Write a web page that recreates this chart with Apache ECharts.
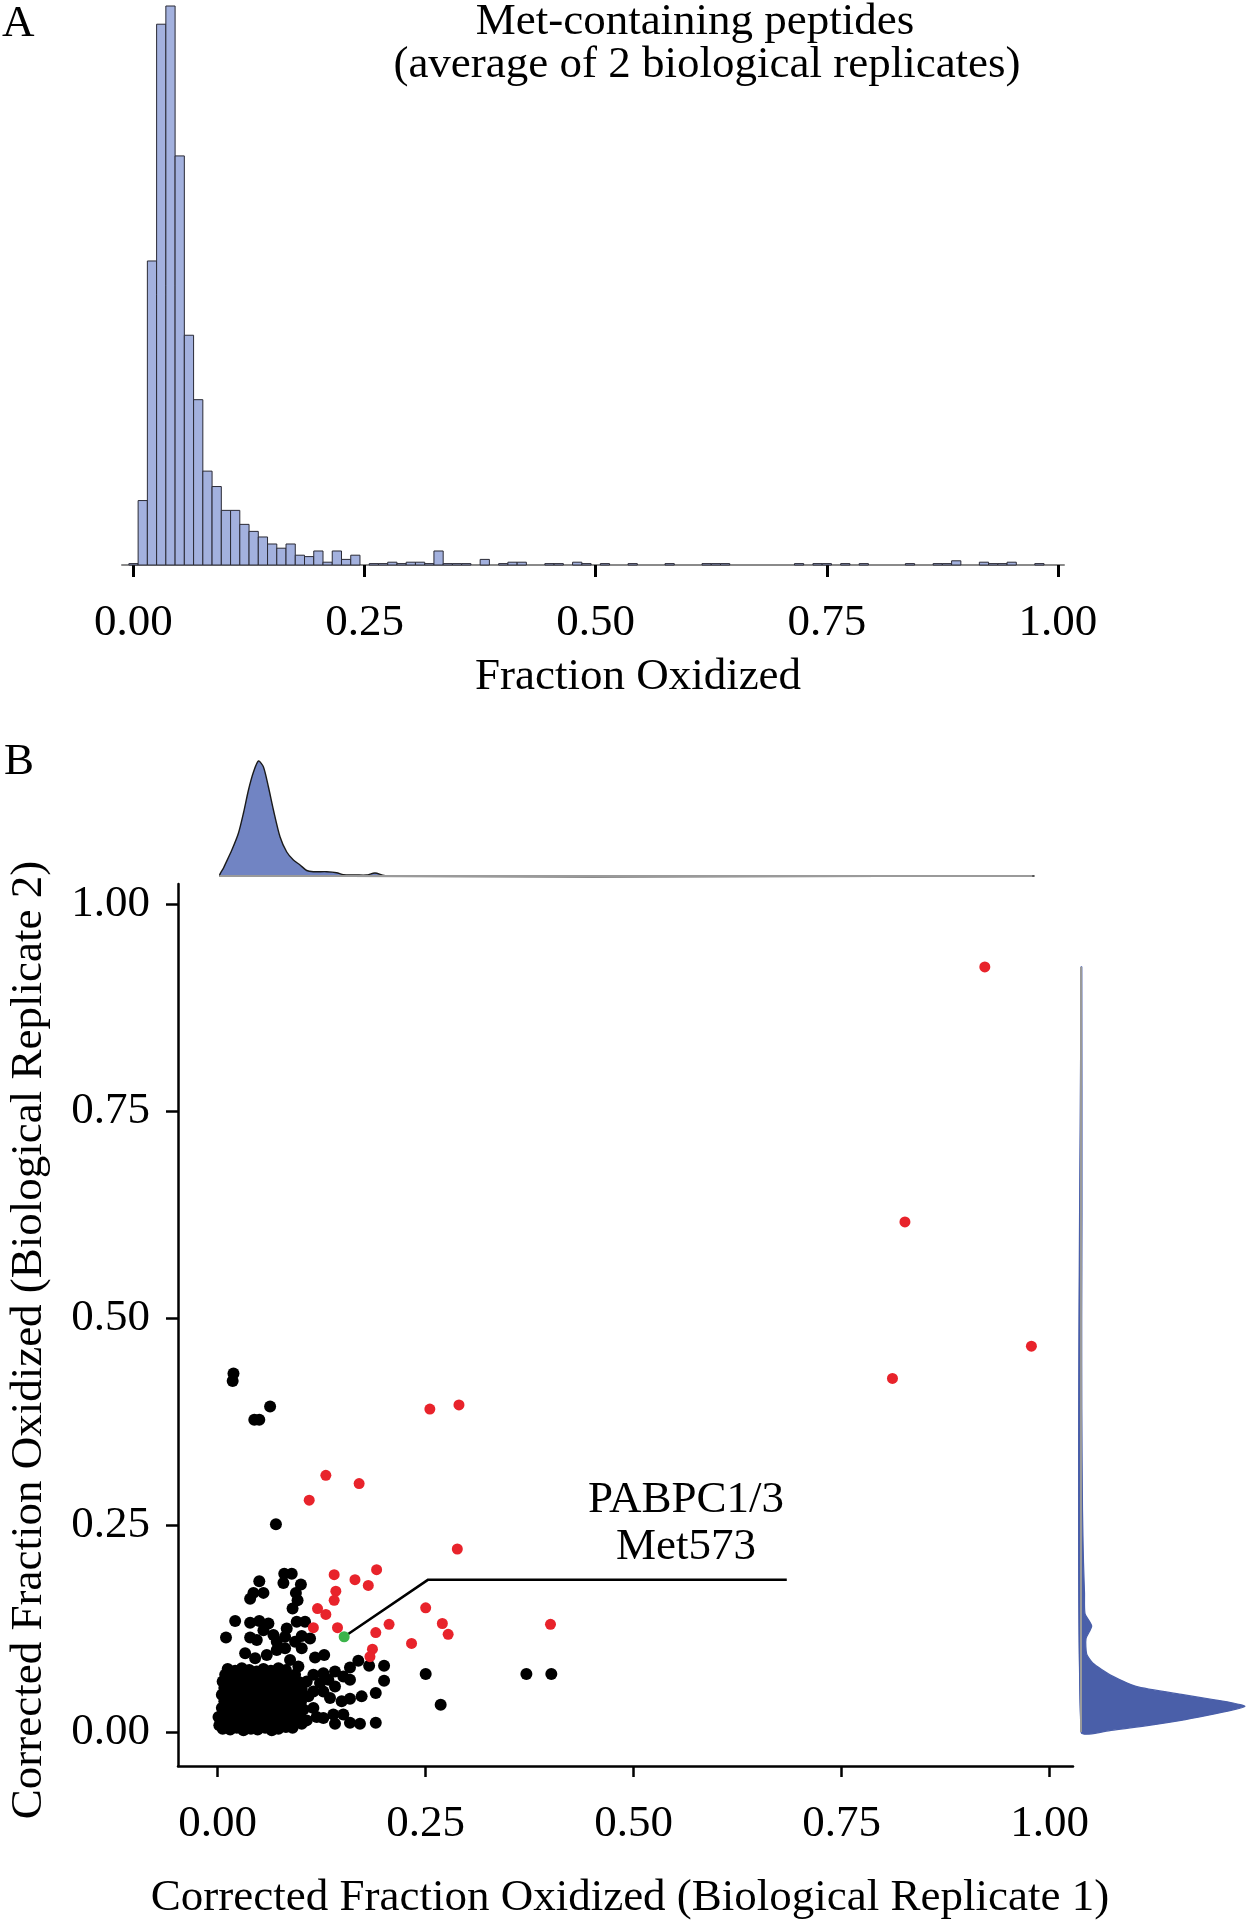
<!DOCTYPE html>
<html><head><meta charset="utf-8">
<script src="https://cdn.jsdelivr.net/npm/echarts@6/dist/echarts.min.js"></script>
<style>html,body{margin:0;padding:0;background:#fff}#c{width:1246px;height:1920px}</style>
</head><body><div id="c"></div>
<script>
// ---------- Panel A: histogram (bin centres, counts) ----------
const histBinWidth = 0.01;
const histCenters = [0.00,0.01,0.02,0.03,0.04,0.05,0.06,0.07,0.08,0.09,0.10,0.11,0.12,0.13,0.14,0.15,0.16,0.17,0.18,0.19,0.20,0.21,0.22,0.23,0.24,
  0.26,0.27,0.28,0.29,0.30,0.31,0.32,0.33,0.34,0.35,0.36,0.38,0.40,0.41,0.42,0.45,0.46,0.48,0.49,0.51,0.54,0.58,0.62,0.63,0.64,
  0.72,0.74,0.75,0.77,0.79,0.84,0.87,0.88,0.89,0.92,0.93,0.94,0.95,0.98];
const histCounts = [1,46,217,386,399,292,164,118,67,56,39,39,29,24,20,15,12,15,7,6,10,2,10,4,7,
  1,1,2,1,2,2,1,10,1,1,1,4,1,2,2,1,1,2,1,1,1,1,1,1,1,
  1,1,1,1,1,1,1,1,3,2,1,1,2,1];
const tickValues = [0, 0.25, 0.5, 0.75, 1];

// ---------- Panel B: scatter ----------
const blackPoints = [
  // dense core
  [0.006,0.004],[0.015,0.003],[0.023,0.005],[0.031,0.002],[0.040,0.004],[0.048,0.003],[0.057,0.005],[0.065,0.002],[0.073,0.004],[0.082,0.006],[0.090,0.005],
  [0.004,0.013],[0.011,0.011],[0.019,0.012],[0.027,0.014],[0.036,0.011],[0.044,0.013],[0.052,0.010],[0.061,0.012],[0.069,0.014],[0.078,0.011],[0.086,0.013],[0.094,0.012],[0.101,0.010],
  [0.007,0.021],[0.015,0.019],[0.024,0.020],[0.032,0.022],[0.040,0.019],[0.049,0.021],[0.057,0.018],[0.066,0.020],[0.074,0.022],[0.083,0.019],[0.091,0.021],[0.099,0.020],
  [0.005,0.029],[0.012,0.027],[0.020,0.028],[0.029,0.030],[0.037,0.027],[0.045,0.029],[0.054,0.026],[0.062,0.028],[0.070,0.030],[0.079,0.027],[0.087,0.029],[0.096,0.028],
  [0.008,0.037],[0.016,0.035],[0.025,0.036],[0.033,0.038],[0.041,0.035],[0.050,0.037],[0.058,0.034],[0.067,0.036],[0.075,0.038],[0.084,0.035],[0.092,0.037],[0.100,0.036],
  [0.005,0.045],[0.013,0.043],[0.021,0.044],[0.030,0.046],[0.038,0.043],[0.046,0.045],[0.055,0.042],[0.063,0.044],[0.071,0.046],[0.080,0.043],[0.088,0.045],[0.097,0.044],
  [0.008,0.053],[0.017,0.051],[0.025,0.052],[0.034,0.054],[0.042,0.051],[0.051,0.053],[0.059,0.050],[0.067,0.052],[0.076,0.054],[0.084,0.051],[0.093,0.053],[0.101,0.052],
  [0.006,0.061],[0.014,0.059],[0.022,0.060],[0.031,0.062],[0.039,0.059],[0.047,0.061],[0.056,0.058],[0.064,0.060],[0.072,0.062],[0.081,0.059],[0.089,0.061],[0.098,0.060],
  [0.009,0.069],[0.017,0.067],[0.026,0.068],[0.034,0.070],[0.043,0.067],[0.051,0.069],[0.059,0.066],[0.068,0.068],[0.076,0.070],[0.085,0.067],[0.093,0.069],
  [0.012,0.076],[0.021,0.074],[0.029,0.077],[0.038,0.075],[0.047,0.073],[0.055,0.076],[0.064,0.074],[0.073,0.077],[0.082,0.075],
  [0.001,0.018],[0.002,0.008],
  // right of core
  [0.115,0.069],[0.127,0.071],[0.141,0.073],[0.151,0.067],[0.159,0.078],[0.169,0.086],[0.182,0.080],[0.200,0.080],[0.200,0.062],[0.159,0.063],
  [0.141,0.055],[0.127,0.049],[0.115,0.049],[0.159,0.040],[0.173,0.043],[0.190,0.047],[0.115,0.029],[0.103,0.027],[0.119,0.018],[0.139,0.021],
  [0.151,0.021],[0.141,0.010],[0.159,0.011],[0.171,0.010],[0.190,0.011],[0.133,0.063],[0.123,0.059],[0.107,0.061],[0.109,0.043],[0.135,0.041],
  [0.107,0.014],[0.127,0.017],[0.149,0.037],
  // above core
  [0.050,0.182],[0.080,0.191],[0.089,0.191],[0.079,0.180],[0.100,0.178],[0.043,0.168],[0.055,0.168],[0.039,0.161],[0.094,0.168],[0.096,0.159],
  [0.090,0.149],[0.021,0.134],[0.010,0.114],[0.039,0.132],[0.050,0.134],[0.061,0.131],[0.039,0.114],[0.047,0.111],[0.083,0.125],[0.095,0.133],
  [0.105,0.133],[0.081,0.115],[0.101,0.116],[0.111,0.113],[0.071,0.109],[0.081,0.101],[0.101,0.101],[0.033,0.095],[0.045,0.089],[0.059,0.093],
  [0.117,0.090],[0.128,0.093],[0.087,0.087],[0.097,0.079],[0.055,0.123],[0.067,0.117],[0.071,0.099],[0.093,0.109],
  // outliers
  [0.019,0.433],[0.018,0.424],[0.044,0.377],[0.050,0.377],[0.063,0.393],[0.070,0.251],
  [0.371,0.070],[0.401,0.070],[0.250,0.070],[0.268,0.033]
];
const redPoints = [
  [0.922,0.924],[0.826,0.616],[0.978,0.466],[0.811,0.427],[0.255,0.390],[0.290,0.395],[0.130,0.310],[0.110,0.280],[0.170,0.300],
  [0.288,0.221],[0.400,0.130],[0.140,0.190],[0.165,0.184],[0.191,0.196],[0.181,0.177],[0.142,0.170],[0.140,0.159],[0.120,0.149],
  [0.130,0.142],[0.115,0.126],[0.144,0.126],[0.190,0.120],[0.206,0.130],[0.186,0.100],[0.183,0.091],[0.233,0.107],[0.250,0.150],
  [0.270,0.131],[0.277,0.118]
];
const greenPoints = [[0.152,0.115]];
const calloutPath = [[0.152,0.115],[0.253,0.184],[0.684,0.184]];

// ---------- marginal densities ----------
const topDensX = [0.003,0.007,0.017,0.025,0.031,0.037,0.043,0.049,0.055,0.061,0.067,0.075,0.083,0.091,0.099,0.107,0.115,0.131,0.143,0.151,0.167,0.179,0.189,0.200,0.210,0.300,0.420,0.979];
const topDensY = [0,0.8,2.6,4.3,6.3,8.6,10.4,11.5,10.9,8.9,6.6,3.9,2.4,1.6,1.1,0.55,0.43,0.43,0.33,0.12,0.1,0.1,0.3,0.05,0.02,0.03,0.03,0];
const rightDensY = [0.000,0.002,0.008,0.014,0.020,0.026,0.031,0.035,0.0386,0.045,0.055,0.069,0.083,0.094,0.1126,0.128,0.143,0.168,0.205,0.268,0.39,0.5,0.627,0.924,0.924];
const rightDensX = [0,3.0,6.8,10.0,12.6,15.0,16.4,15.2,13.5,10.2,5.5,2.9,1.2,0.57,0.5,1.07,0.4,0.35,0.25,0.15,0.08,0.07,0.1,0.08,0];

const FONT = 'Liberation Serif';
const fmt = v => v.toFixed(2);

const chart = echarts.init(document.getElementById('c'), null, {renderer: 'canvas'});

function axisX(gridIndex, min, max, opts) {
  return Object.assign({
    type: 'value', gridIndex, min, max,
    splitLine: {show: false},
    axisLine: {show: true, onZero: false, lineStyle: {color: '#000', width: 2.5}},
    axisTick: {show: true, customValues: tickValues, length: 11, lineStyle: {color: '#000', width: 2.5}},
    axisLabel: {show: true, customValues: tickValues, formatter: fmt, fontFamily: FONT, fontSize: 45, color: '#000', margin: 36}
  }, opts || {});
}
const hiddenAxis = (gridIndex, min, max) => ({
  type: 'value', gridIndex, min, max, show: false,
  splitLine: {show: false}, axisLine: {show: false}, axisTick: {show: false}, axisLabel: {show: false}
});

const option = {
  animation: false,
  backgroundColor: '#fff',
  grid: [
    {left: 122, top: 6, width: 942, height: 559},
    {left: 178, top: 884, width: 895, height: 882},
    {left: 178, top: 756, width: 895, height: 120},
    {left: 1081, top: 884, width: 165, height: 882}
  ],
  xAxis: [
    axisX(0, -0.01244, 1.00659, {
      axisLine: {show: true, onZero: false, lineStyle: {color: '#8a8a8a', width: 2}},
      axisTick: {show: true, customValues: tickValues, length: 12, lineStyle: {color: '#000', width: 3}}
    }),
    axisX(1, -0.0477, 1.028),
    hiddenAxis(2, -0.0477, 1.028),
    hiddenAxis(3, 0, 16.5)
  ],
  yAxis: [
    hiddenAxis(0, 0, 399),
    {
      type: 'value', gridIndex: 1, min: -0.0411, max: 1.0242,
      splitLine: {show: false},
      axisLine: {show: true, onZero: false, lineStyle: {color: '#000', width: 2.5}},
      axisTick: {show: true, customValues: tickValues, length: 12, lineStyle: {color: '#000', width: 2.5}},
      axisLabel: {show: true, customValues: tickValues, formatter: fmt, fontFamily: FONT, fontSize: 45, color: '#000', margin: 28}
    },
    hiddenAxis(2, 0, 12),
    hiddenAxis(3, -0.0411, 1.0242)
  ],
  series: [
    {
      type: 'custom', xAxisIndex: 0, yAxisIndex: 0,
      data: histCenters.map((c, i) => [c, histCounts[i]]),
      renderItem: (params, api) => {
        const c = api.value(0), n = api.value(1);
        const p1 = api.coord([c - histBinWidth / 2, n]);
        const p2 = api.coord([c + histBinWidth / 2, 0]);
        return {type: 'rect', shape: {x: p1[0], y: p1[1], width: p2[0] - p1[0], height: p2[1] - p1[1]},
          style: {fill: '#a3b1de', stroke: '#2a2a35', lineWidth: 1}};
      }
    },
    {
      type: 'line', xAxisIndex: 2, yAxisIndex: 2, symbol: 'none', silent: true,
      data: [[0.002, 0], [0.979, 0]], lineStyle: {color: '#9a9a9a', width: 2}
    },
    {
      type: 'custom', xAxisIndex: 2, yAxisIndex: 2, data: [[0, 0]], silent: true,
      renderItem: (params, api) => {
        const pts = topDensX.map((x, i) => api.coord([x, topDensY[i]]));
        return {type: 'polygon', shape: {points: pts, smooth: 0.25}, style: {fill: '#7184c3', stroke: '#1a1a1a', lineWidth: 1.4}};
      }
    },
    {
      type: 'line', xAxisIndex: 3, yAxisIndex: 3, symbol: 'none', silent: true,
      data: [[0, 0], [0, 0.924]], lineStyle: {color: '#9a9a9a', width: 2}
    },
    {
      type: 'custom', xAxisIndex: 3, yAxisIndex: 3, data: [[0, 0]], silent: true,
      renderItem: (params, api) => {
        const pts = rightDensY.map((y, i) => api.coord([rightDensX[i], y]));
        return {type: 'polygon', shape: {points: pts, smooth: 0.2}, style: {fill: '#4a5fa9', stroke: '#4a5fa9', lineWidth: 1.2}};
      }
    },
    {
      type: 'scatter', xAxisIndex: 1, yAxisIndex: 1, data: blackPoints,
      symbolSize: 12, itemStyle: {color: '#000', opacity: 1}
    },
    {
      type: 'scatter', xAxisIndex: 1, yAxisIndex: 1, data: redPoints,
      symbolSize: 11, itemStyle: {color: '#e8232b', opacity: 1}
    },
    {
      type: 'line', xAxisIndex: 1, yAxisIndex: 1, data: calloutPath, symbol: 'none',
      lineStyle: {color: '#000', width: 2.5}, z: 3
    },
    {
      type: 'scatter', xAxisIndex: 1, yAxisIndex: 1, data: greenPoints,
      symbolSize: 11, itemStyle: {color: '#3cb44b', opacity: 1}, z: 4
    }
  ],
  graphic: [
    {type: 'text', left: 2, top: 2, style: {text: 'A', font: '45px "Liberation Serif"', fill: '#000'}},
    {type: 'text', x: 695, y: 22, style: {text: 'Met-containing peptides', font: '45px "Liberation Serif"', fill: '#000', align: 'center', verticalAlign: 'middle'}},
    {type: 'text', x: 707, y: 65, style: {text: '(average of 2 biological replicates)', font: '45px "Liberation Serif"', fill: '#000', align: 'center', verticalAlign: 'middle'}},
    {type: 'text', x: 638, y: 677, style: {text: 'Fraction Oxidized', font: '45px "Liberation Serif"', fill: '#000', align: 'center', verticalAlign: 'middle'}},
    {type: 'text', x: 4, y: 762, style: {text: 'B', font: '45px "Liberation Serif"', fill: '#000', align: 'left', verticalAlign: 'middle'}},
    {type: 'text', x: 630, y: 1898, style: {text: 'Corrected Fraction Oxidized (Biological Replicate 1)', font: '45px "Liberation Serif"', fill: '#000', align: 'center', verticalAlign: 'middle'}},
    {type: 'text', x: 29, y: 1340, rotation: Math.PI / 2, style: {text: 'Corrected Fraction Oxidized (Biological Replicate 2)', font: '45px "Liberation Serif"', fill: '#000', align: 'center', verticalAlign: 'middle'}},
    {type: 'text', x: 686, y: 1500, style: {text: 'PABPC1/3', font: '45px "Liberation Serif"', fill: '#000', align: 'center', verticalAlign: 'middle'}},
    {type: 'text', x: 686, y: 1547, style: {text: 'Met573', font: '45px "Liberation Serif"', fill: '#000', align: 'center', verticalAlign: 'middle'}}
  ]
};
chart.setOption(option);
</script>
</body></html>
